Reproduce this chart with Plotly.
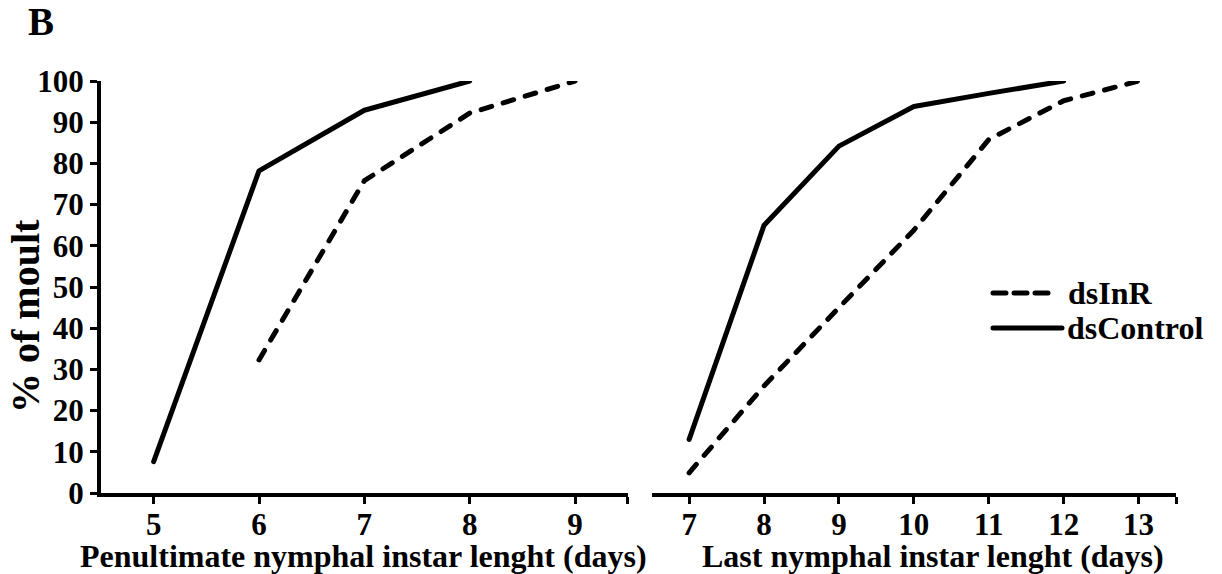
import plotly.graph_objects as go
from plotly.subplots import make_subplots

# Penultimate nymphal instar (left panel)
pen_days_control = [5, 6, 7, 8]
pen_control = [7.6, 78.2, 92.9, 100]
pen_days_inr = [6, 7, 8, 9]
pen_inr = [32.3, 75.8, 92.2, 100]

# Last nymphal instar (right panel)
last_days_control = [7, 8, 9, 10, 11, 12]
last_control = [13.0, 65.0, 84.2, 93.8, 97.0, 100]
last_days_inr = [7, 8, 9, 10, 11, 12, 13]
last_inr = [4.9, 26.0, 45.0, 63.8, 85.8, 95.2, 100]

y_ticks = [0, 10, 20, 30, 40, 50, 60, 70, 80, 90, 100]
pen_ticks = [5, 6, 7, 8, 9]
last_ticks = [7, 8, 9, 10, 11, 12, 13]

FONT = "Times New Roman, Liberation Serif, DejaVu Serif, serif"
W, H = 1222, 574
ML, MR, MT, MB = 101, 46, 81, 81
PW, PH = W - ML - MR, H - MT - MB


def px(x):
    return (x - ML) / PW


def py(y):
    return (H - MB - y) / PH


fig = make_subplots(rows=1, cols=2, shared_yaxes=False, horizontal_spacing=0)

# dashes get round caps (see post_script), so the drawn dash is a bit longer
dash_inr = "11px,12px"
line_w = 5

fig.add_trace(go.Scatter(x=pen_days_control, y=pen_control, mode="lines",
                         line=dict(color="black", width=line_w),
                         cliponaxis=False, showlegend=False), row=1, col=1)
fig.add_trace(go.Scatter(x=pen_days_inr, y=pen_inr, mode="lines",
                         line=dict(color="black", width=line_w, dash=dash_inr),
                         cliponaxis=False, showlegend=False), row=1, col=1)
fig.add_trace(go.Scatter(x=last_days_control, y=last_control, mode="lines",
                         line=dict(color="black", width=line_w),
                         cliponaxis=False, showlegend=False), row=1, col=2)
fig.add_trace(go.Scatter(x=last_days_inr, y=last_inr, mode="lines",
                         line=dict(color="black", width=line_w, dash=dash_inr),
                         cliponaxis=False, showlegend=False), row=1, col=2)

tick_font = dict(family=FONT, size=31, color="black", weight="bold")
left_dom = [0, px(627.7)]
right_dom = [px(651.7), 1]

# x axes: ticks below, with a closing tick at the right end of each axis
fig.update_xaxes(domain=left_dom, range=[4.5, 9.5],
                 tickvals=pen_ticks + [9.5],
                 ticktext=[str(t) for t in pen_ticks] + [""],
                 row=1, col=1)
fig.update_xaxes(domain=right_dom, range=[6.5, 13.5],
                 tickvals=last_ticks + [13.5],
                 ticktext=[str(t) for t in last_ticks] + [""],
                 row=1, col=2)
fig.update_xaxes(showline=True, linecolor="black", linewidth=4,
                 ticks="outside", ticklen=7, tickwidth=3, tickcolor="black",
                 ticklabelstandoff=-6,
                 showgrid=False, zeroline=False, tickfont=tick_font)

fig.update_yaxes(range=[0, 100], tickvals=y_ticks, showline=True,
                 linecolor="black", linewidth=4, ticks="outside", ticklen=7,
                 tickwidth=3, tickcolor="black", showgrid=False, zeroline=False,
                 tickfont=tick_font, row=1, col=1)
fig.update_yaxes(range=[0, 100], showline=False, showticklabels=False,
                 ticks="", showgrid=False, zeroline=False, row=1, col=2)

title_font = dict(family=FONT, size=32, color="black", weight="bold")
annotations = [
    dict(text="B", x=px(41), y=py(22), xref="paper", yref="paper",
         showarrow=False, xanchor="center", yanchor="middle",
         font=dict(family=FONT, size=39, color="black", weight="bold")),
    dict(text="% of moult", x=px(25), y=py(316), xref="paper", yref="paper",
         showarrow=False, textangle=-90, xanchor="center", yanchor="middle",
         font=dict(family=FONT, size=40, color="black", weight="bold")),
    dict(text="Penultimate nymphal instar lenght (days)", x=px(78), y=py(556),
         xref="paper", yref="paper", showarrow=False, xanchor="left",
         yanchor="middle", font=title_font),
    dict(text="Last nymphal instar lenght (days)", x=px(700), y=py(556),
         xref="paper", yref="paper", showarrow=False, xanchor="left",
         yanchor="middle", font=title_font),
    dict(text="dsInR", x=px(1066), y=py(293), xref="paper", yref="paper",
         showarrow=False, xanchor="left", yanchor="middle", font=title_font),
    dict(text="dsControl", x=px(1065), y=py(328), xref="paper", yref="paper",
         showarrow=False, xanchor="left", yanchor="middle", font=title_font),
]

# legend keys
shapes = [
    dict(type="line", xref="paper", yref="paper",
         x0=px(993), x1=px(1051), y0=py(293), y1=py(293),
         line=dict(color="black", width=line_w, dash="13px,8px")),
    dict(type="line", xref="paper", yref="paper",
         x0=px(993), x1=px(1062), y0=py(328), y1=py(328),
         line=dict(color="black", width=line_w)),
]

fig.update_layout(width=W, height=H,
                  margin=dict(l=ML, r=MR, t=MT, b=MB),
                  paper_bgcolor="white", plot_bgcolor="white",
                  annotations=annotations, shapes=shapes,
                  font=dict(family=FONT, color="black"))

# round line ends for the curves and the legend keys
round_caps = """
var gd = document.getElementById('{plot_id}');
function roundCaps() {
  gd.querySelectorAll('.scatterlayer path.js-line, .layer-above .shapelayer path')
    .forEach(function (p) {
      p.style.strokeLinecap = 'round';
      p.style.strokeLinejoin = 'round';
    });
}
roundCaps();
gd.on('plotly_afterplot', roundCaps);
"""

fig.write_html("out.html", post_script=round_caps)
